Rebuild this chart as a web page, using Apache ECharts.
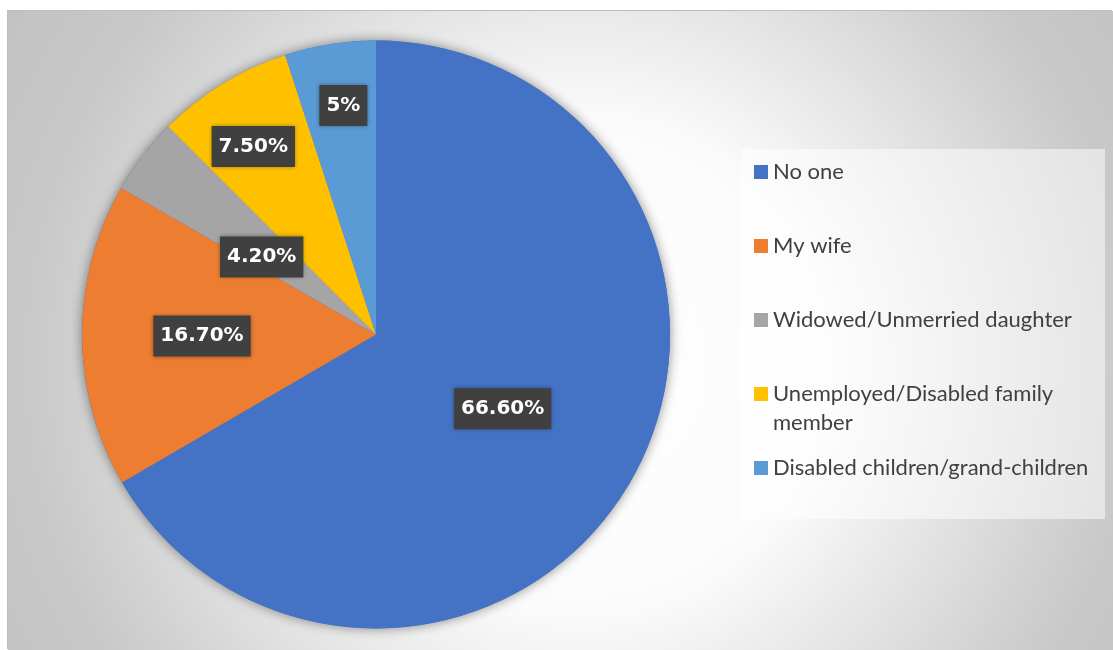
<!DOCTYPE html>
<html>
<head>
<meta charset="utf-8">
<script src="https://cdn.jsdelivr.net/npm/echarts@6/dist/echarts.min.js"></script>
<style>
  html, body { margin: 0; padding: 0; background: #ffffff; width: 1113px; height: 650px; overflow: hidden; }
  #frame { position: absolute; left: 8px; top: 11px; width: 1105px; height: 639px; box-shadow: -1px -1px 0 #bdbdbd; }
  #chart { width: 100%; height: 100%; }
</style>
</head>
<body>
<div id="frame"><div id="chart"></div></div>
<script>
// Who depends on the respondent — share of answers
const categories = [
  'No one',
  'My wife',
  'Widowed/Unmerried daughter',
  'Unemployed/Disabled family member',
  'Disabled children/grand-children'
];
const shares = [66.6, 16.7, 4.2, 7.5, 5];
const shareLabels = ['66.60%', '16.70%', '4.20%', '7.50%', '5%'];
const sliceColors = ['#4472C4', '#ED7D31', '#A5A5A5', '#FFC000', '#5B9BD5'];

// Label distance from the centre along each slice bisector, as a fraction of the radius,
// plus a small pixel nudge for each label box
const labelReach = [0.51, 0.59, 0.48, 0.77, 0.78];
const labelNudge = [[-6, -2], [3, 1], [0, 10], [-2, 9], [4, 2]];
const legendWrap = { 'Unemployed/Disabled family member': 'Unemployed/Disabled family\nmember' };

const PIE_CENTER = [368, 323.5];
const PIE_RADIUS = 294;

const chart = echarts.init(document.getElementById('chart'), null, { renderer: 'canvas' });

const legendBase = {
  orient: 'vertical',
  left: 746,
  padding: 0,
  itemWidth: 14,
  itemHeight: 14,
  itemGap: 45,
  icon: 'rect',
  selectedMode: false,
  formatter: name => legendWrap[name] || name,
  textStyle: { fontFamily: 'Lato', fontSize: 22, color: '#404040', lineHeight: 29 }
};

const total = shares.reduce((a, b) => a + b, 0);

const option = {
  animation: false,
  backgroundColor: {
    type: 'radial', x: 572, y: 354, r: 680, global: true,
    colorStops: [
      { offset: 0, color: '#ffffff' },
      { offset: 0.36, color: '#fbfbfb' },
      { offset: 0.52, color: '#e9e9e9' },
      { offset: 0.6, color: '#e0e0e0' },
      { offset: 0.74, color: '#d0d0d0' },
      { offset: 0.82, color: '#c8c8c8' },
      { offset: 1, color: '#c2c2c2' }
    ]
  },
  graphic: [{
    type: 'rect', left: 733, top: 138, z: 1, silent: true,
    shape: { width: 364, height: 370 },
    style: { fill: 'rgba(255,255,255,0.5)' }
  }],
  legend: [
    Object.assign({}, legendBase, { top: 146.5, data: categories.slice(0, 3) }),
    // two-line entry: the marker sits beside the first line
    Object.assign({}, legendBase, {
      top: 368.5,
      itemHeight: 43,
      data: [{ name: categories[3], icon: 'path://M0 0H14V14H0Z M0 43h0.01v0.01h-0.01Z' }]
    }),
    Object.assign({}, legendBase, { top: 442.5, data: [categories[4]] })
  ],
  series: [
    {
      // soft outer shadow behind the whole disc
      type: 'pie', silent: true, z: 1,
      center: PIE_CENTER, radius: PIE_RADIUS,
      data: [{ name: '', value: total }],
      label: { show: false }, labelLine: { show: false },
      itemStyle: { color: '#4472C4', shadowBlur: 12, shadowColor: 'rgba(0,0,0,0.45)' },
      emphasis: { disabled: true }, tooltip: { show: false }
    },
    {
      type: 'pie', z: 2,
      center: PIE_CENTER, radius: PIE_RADIUS,
      startAngle: 90, clockwise: true,
      data: categories.map((name, i) => ({ name, value: shares[i], itemStyle: { color: sliceColors[i] } })),
      itemStyle: { borderWidth: 0 },
      emphasis: { disabled: true },
      labelLine: { show: false },
      label: {
        show: true,
        position: 'inside',
        formatter: p => shareLabels[p.dataIndex],
        fontFamily: 'DejaVu Sans',
        fontWeight: 'bold',
        fontSize: 20,
        lineHeight: 25,
        color: '#ffffff',
        backgroundColor: '#404040',
        padding: [8, 7],
        shadowBlur: 4,
        shadowColor: 'rgba(0,0,0,0.35)'
      },
      labelLayout: function (p) {
        const k = labelReach[p.dataIndex] / 0.5;
        const nudge = labelNudge[p.dataIndex];
        const lx = p.labelRect.x + p.labelRect.width / 2;
        const ly = p.labelRect.y + p.labelRect.height / 2;
        return {
          x: PIE_CENTER[0] + (lx - PIE_CENTER[0]) * k + nudge[0],
          y: PIE_CENTER[1] + (ly - PIE_CENTER[1]) * k + nudge[1]
        };
      }
    }
  ]
};

chart.setOption(option);
</script>
</body>
</html>
